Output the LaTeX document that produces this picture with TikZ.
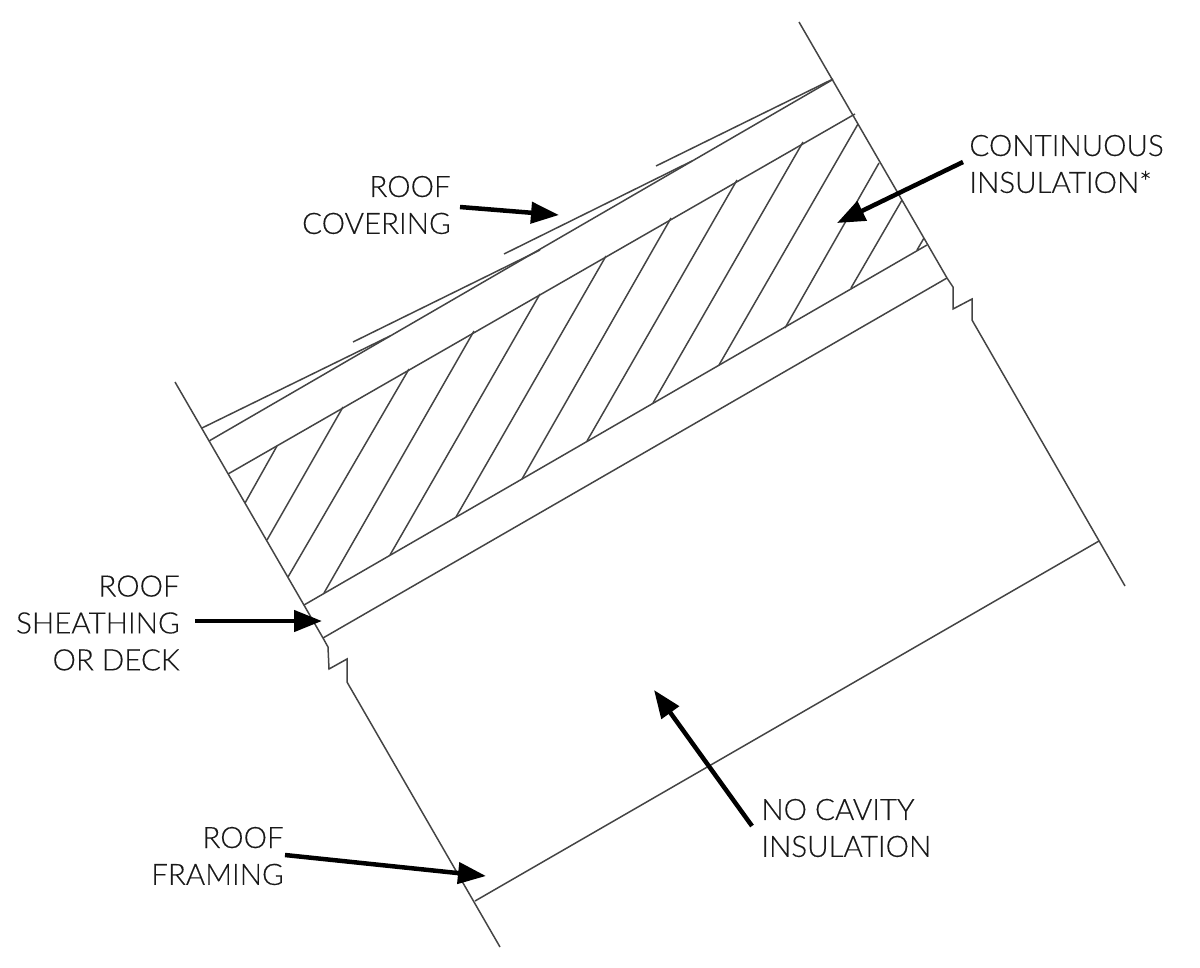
\documentclass[tikz,border=0pt]{standalone}
\usepackage{fontspec}
\setmainfont[FakeBold=0.3]{Lato Light}
\usetikzlibrary{arrows.meta}
\definecolor{linegray}{HTML}{444444}
\tikzset{
  thin line/.style={line width=0.85pt,color=linegray},
  pointer/.style={line width=0.09cm,black,-{Triangle[length=0.56cm,width=0.42cm]}},
  label text/.style={font=\fontsize{16.8pt}{21pt}\selectfont,text=black!90,align=#1},
}
\def\SH#1#2{\draw[thin line] #1 -- #2;}
\begin{document}
\begin{tikzpicture}[x=0.02cm,y=-0.02cm]
\useasboundingbox (0,0) rectangle (1200,967);
% walls with break
\draw[thin line] (175,382) -- (323,638) -- (328,647) -- (329,669) -- (347,659) -- (347,682) -- (500,947);
\draw[thin line] (799,22) -- (947,278) -- (953,287) -- (953,309) -- (972,299) -- (972,320) -- (1125,586);
% layers
\SH{(209,441)}{(832,80)}
\SH{(228,474)}{(855,114)}
\SH{(304,605)}{(927,245)}
\SH{(323,638)}{(947,278)}
\draw[thin line] (475,901) -- (1099,541);
% shingles
\SH{(202,428)}{(390,336)}
\SH{(353,342)}{(540,250)}
\SH{(504,254)}{(692,161)}
\SH{(656,166)}{(833,79)}
% hatching
\foreach \xa/\ya/\xb/\yb in {277/446/245/503,343/407/267/540,409/369/288/577,474/331/324/593,540/294/390/555,
  606/256/456/517,671/218/522/479,737/180/587/441,803/142/653/403,858/124/719/365,879/163/785/328,902/200/851/288,924/238/917/250}
  \draw[thin line] (\xa,\ya) -- (\xb,\yb);
% labels
\node[label text=right,anchor=east,inner sep=0.18cm] (covering) at (460,205) {ROOF\\COVERING};
\node[label text=left,anchor=west,inner sep=0.12cm] (continuous) at (963,164) {CONTINUOUS\\INSULATION*};
\node[label text=right,anchor=east,inner sep=0.3cm] (sheathing) at (195,623) {ROOF\\SHEATHING\\OR DECK};
\node[label text=left,anchor=west,inner sep=0.18cm] (nocavity) at (752,828) {NO CAVITY\\INSULATION};
\node[label text=right,anchor=east,inner sep=0.02cm] (framing) at (285,856) {ROOF\\FRAMING};
\coordinate (coveringtip) at (559,215);
\coordinate (continuoustip) at (837,223);
\coordinate (sheathingtip) at (322,621);
\coordinate (nocavitytip) at (654,690);
\coordinate (framingtip) at (486,876);
\draw[pointer] ([yshift=-0.04cm]covering.east) -- (coveringtip);
\draw[pointer] ([yshift=0.04cm]continuous.west) -- (continuoustip);
\draw[pointer] (sheathing.east |- sheathingtip) -- (sheathingtip);
\draw[pointer] ([yshift=0.04cm]nocavity.west) -- (nocavitytip);
\draw[pointer] ([yshift=0.02cm]framing.east) -- (framingtip);
\end{tikzpicture}
\end{document}
